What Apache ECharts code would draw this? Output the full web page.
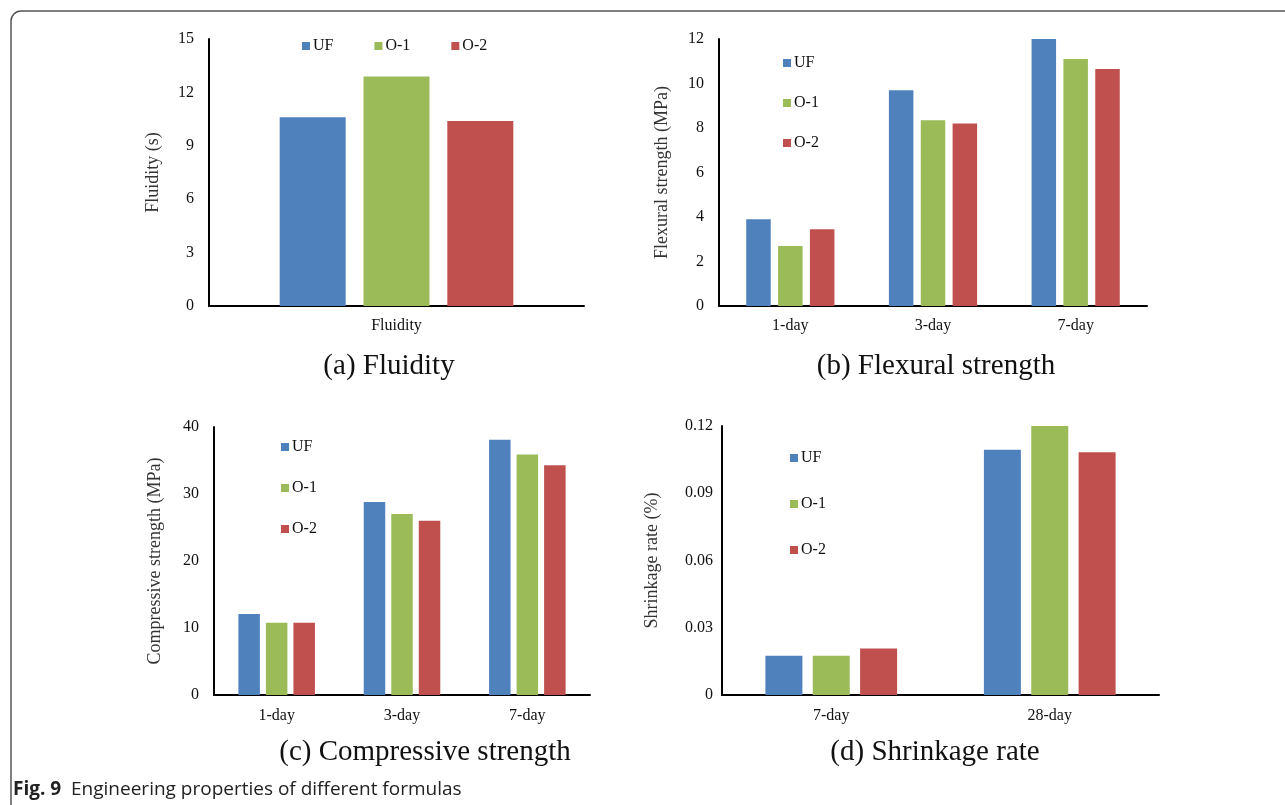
<!DOCTYPE html>
<html>
<head>
<meta charset="utf-8">
<style>
html,body{margin:0;padding:0;background:#fff;}
#c{width:1285px;height:805px;}
</style>
<script src="https://cdn.jsdelivr.net/npm/echarts@6/dist/echarts.min.js"></script>
</head>
<body>
<div id="c"></div>
<script>
// ---- data ----
const groups = ['UF', 'O-1', 'O-2'];
const colors = ['#4F81BD', '#9BBB59', '#C0504D'];

const fluidityCats = ['Fluidity'];
const fluidityUF = [10.6];
const fluidityO1 = [12.9];
const fluidityO2 = [10.4];
const fluidityTicks = [0, 3, 6, 9, 12, 15];

const flexCats = ['1-day', '3-day', '7-day'];
const flexUF = [3.9, 9.7, 12.0];
const flexO1 = [2.7, 8.35, 11.1];
const flexO2 = [3.45, 8.2, 10.65];
const flexTicks = [0, 2, 4, 6, 8, 10, 12];

const compCats = ['1-day', '3-day', '7-day'];
const compUF = [12.1, 28.8, 38.1];
const compO1 = [10.8, 27.0, 35.9];
const compO2 = [10.8, 26.0, 34.3];
const compTicks = [0, 10, 20, 30, 40];

const shrinkCats = ['7-day', '28-day'];
const shrinkUF = [0.0175, 0.1094];
const shrinkO1 = [0.0175, 0.12];
const shrinkO2 = [0.0207, 0.1083];
const shrinkTicks = [0, 0.03, 0.06, 0.09, 0.12];

const subTitles = ['(a) Fluidity', '(b) Flexural strength', '(c) Compressive strength', '(d) Shrinkage rate'];
const yNames = ['Fluidity (s)', 'Flexural strength (MPa)', 'Compressive strength (MPa)', 'Shrinkage rate (%)'];
const captionBold = 'Fig. 9';
const captionText = 'Engineering properties of different formulas';

// ---- layout ----
const SERIF = 'Liberation Serif';
const panels = [
  {cats: fluidityCats, data: [fluidityUF, fluidityO1, fluidityO2], ticks: fluidityTicks,
   grid: {left: 209, top: 39, width: 375, height: 267}, barWidth: 66, barGap: '27%',
   labelMargin: 15, xMargin: 12, nameGap: 47, legend: {left: 302, top: 38, orient: 'horizontal', itemGap: 41}},
  {cats: flexCats, data: [flexUF, flexO1, flexO2], ticks: flexTicks,
   grid: {left: 719, top: 39, width: 428, height: 267}, barWidth: 24.5, barGap: '30%',
   labelMargin: 15, xMargin: 12, nameGap: 48, legend: {left: 783, top: 55, orient: 'vertical', itemGap: 24}},
  {cats: compCats, data: [compUF, compO1, compO2], ticks: compTicks,
   grid: {left: 214, top: 427, width: 376, height: 268}, barWidth: 21.5, barGap: '28%',
   labelMargin: 15, xMargin: 13, nameGap: 50, legend: {left: 281, top: 439, orient: 'vertical', itemGap: 25}},
  {cats: shrinkCats, data: [shrinkUF, shrinkO1, shrinkO2], ticks: shrinkTicks,
   grid: {left: 722, top: 426, width: 437, height: 269}, barWidth: 37, barGap: '28%',
   labelMargin: 9, xMargin: 13, nameGap: 61, legend: {left: 790, top: 450, orient: 'vertical', itemGap: 30}}
];

const option = {
  animation: false,
  backgroundColor: '#fff',
  grid: [], xAxis: [], yAxis: [], series: [], legend: [],
  graphic: []
};

panels.forEach((p, i) => {
  option.grid.push(Object.assign({containLabel: false}, p.grid));
  option.xAxis.push({
    type: 'category', gridIndex: i, data: p.cats,
    axisLine: {lineStyle: {color: '#000', width: 2}},
    axisTick: {show: false},
    axisLabel: {color: '#111', fontFamily: SERIF, fontSize: 16, margin: p.xMargin}
  });
  const t = p.ticks;
  option.yAxis.push({
    type: 'value', gridIndex: i,
    min: t[0], max: t[t.length - 1], interval: t[1] - t[0],
    name: yNames[i], nameLocation: 'middle', nameGap: p.nameGap, nameRotate: 90,
    nameTextStyle: {color: '#333', fontFamily: SERIF, fontSize: 18},
    axisLine: {show: true, lineStyle: {color: '#000', width: 2}},
    axisTick: {show: false},
    splitLine: {show: false},
    axisLabel: {color: '#111', fontFamily: SERIF, fontSize: 16, margin: p.labelMargin,
      formatter: v => String(parseFloat(v.toFixed(4)))}
  });
  groups.forEach((g, k) => {
    option.series.push({
      type: 'bar', name: g, xAxisIndex: i, yAxisIndex: i,
      data: p.data[k], barWidth: p.barWidth, barGap: p.barGap,
      itemStyle: {color: colors[k]}
    });
  });
  option.legend.push({
    data: groups, left: p.legend.left, top: p.legend.top, orient: p.legend.orient,
    itemGap: p.legend.itemGap, itemWidth: 8, itemHeight: 8, icon: 'rect',
    padding: 0, selectedMode: false,
    textStyle: {color: '#111', fontFamily: SERIF, fontSize: 16, padding: [0, 0, 0, -2]}
  });
});

const subPos = [[389, 366], [936, 366], [425, 752], [935, 752]];
subTitles.forEach((s, i) => {
  option.graphic.push({
    type: 'text', x: subPos[i][0], y: subPos[i][1],
    style: {text: s, fill: '#111', font: '29px "Liberation Serif"', align: 'center', verticalAlign: 'middle'}
  });
});

option.graphic.push({
  type: 'rect', shape: {x: 11, y: 11, width: 1320, height: 840, r: 10},
  style: {fill: 'none', stroke: '#555', lineWidth: 1.5}, silent: true
});
option.graphic.push({
  type: 'text', x: 13, y: 790,
  style: {
    text: '{b|' + captionBold + '}  ' + captionText,
    rich: {b: {font: 'bold 19px "Open Sans"', fill: '#222'}},
    font: '19px "Open Sans"', fill: '#222', verticalAlign: 'middle'
  }
});

const chart = echarts.init(document.getElementById('c'), null, {renderer: 'canvas'});
chart.setOption(option);
</script>
</body>
</html>
